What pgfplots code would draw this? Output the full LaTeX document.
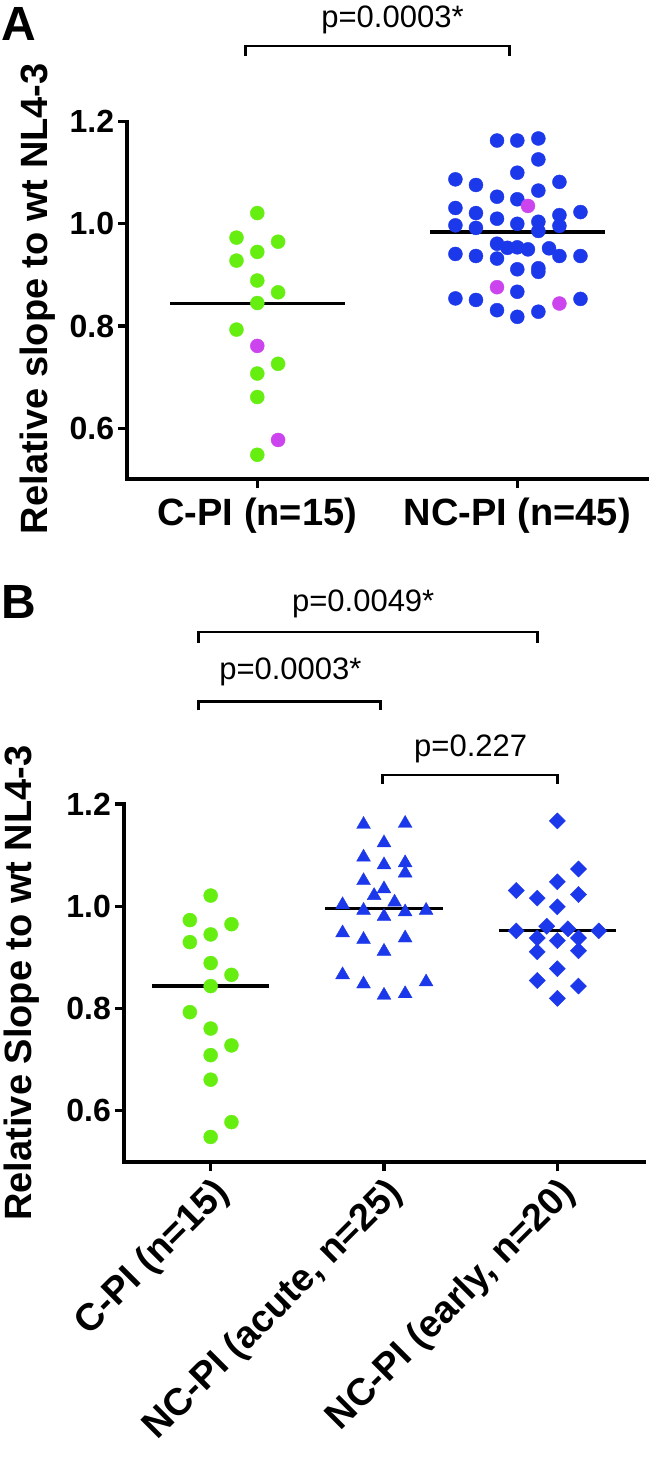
\documentclass[border=0pt]{standalone}
\usepackage{fontspec}
\setmainfont{Liberation Sans}
\usepackage{pgfplots}
\pgfplotsset{compat=1.18}
\definecolor{cgreen}{RGB}{102,238,17}
\definecolor{cmag}{RGB}{204,68,238}
\definecolor{cblue}{RGB}{28,56,235}
\pgfplotsset{
  slopeaxis/.style={
    scale only axis,
    width=520pt,
    ymin=0.5, ymax=1.2,
    ytick={0.6,0.8,1.0,1.2},
    axis lines*=left,
    axis line style={line width=3.8pt, line cap=rect},
    tick align=outside,
    major tick length=9pt,
    major tick style={line width=3.2pt, black},
    clip=false,
    yticklabel style={font=\fontsize{32}{32}\selectfont\bfseries, inner sep=4pt,
      /pgf/number format/fixed, /pgf/number format/fixed zerofill,
      /pgf/number format/precision=1, /pgf/number format/assume math mode=true},
    ylabel style={font=\fontsize{38}{38}\selectfont\bfseries, anchor=base},
  },
}
\begin{document}
\begin{tikzpicture}[x=1pt,y=1pt]
\useasboundingbox (0,0) rectangle (650,-1461);
\node[anchor=north west, inner sep=0pt, font=\fontsize{48}{48}\selectfont\bfseries] at (1,-7) {A};
\node[anchor=north west, inner sep=0pt, font=\fontsize{48}{48}\selectfont\bfseries] at (1,-585) {B};

% ---------------- Panel A ----------------
\begin{axis}[slopeaxis, at={(127.3pt,-479.3pt)}, anchor=south west, height=357.7pt,
  xmin=0.5, xmax=2.5, xtick={1,2},
  xticklabels={C-PI (n=15), NC-PI (n=45)},
  xticklabel style={font=\fontsize{38}{38}\selectfont\bfseries, inner sep=9pt},
  ylabel={Relative slope to wt NL4-3},
  ylabel style={at={(axis description cs:-0.154,0.505)}},
]
\addplot[only marks, mark=*, mark size=7pt, color=cgreen] coordinates {
(0.92,0.973) (1.08,0.965) (1,1.021) (1,0.945) (0.92,0.928) (1,0.889) (1.08,0.866)
(1,0.845) (0.92,0.793) (1.08,0.726) (1,0.707) (1,0.661) (1,0.548)};
\addplot[only marks, mark=*, mark size=7pt, color=cmag] coordinates {
(1,0.761) (1.08,0.577)};
\addplot[only marks, mark=*, mark size=7pt, color=cblue] coordinates {
(1.922,1.163) (2,1.163) (2.081,1.167) (2.081,1.126) (2,1.100) (1.762,1.087)
(2.162,1.082) (1.841,1.076) (2.081,1.065) (1.922,1.053) (2,1.048) (1.762,1.031)
(2.243,1.023) (1.841,1.021) (2.162,1.017) (1.922,1.010) (2.081,1.004) (2,1.000)
(1.762,0.997) (2.162,0.996) (1.841,0.992) (2.081,0.986) (1.922,0.961) (1.962,0.953)
(2,0.954) (2.041,0.950) (2.122,0.952) (1.762,0.941) (1.841,0.937) (2.162,0.937)
(2.243,0.937) (1.922,0.932) (2,0.911) (2.081,0.913) (2.081,0.906) (2,0.867)
(1.762,0.854) (1.841,0.851) (2.243,0.853) (1.922,0.831) (2.081,0.828) (2,0.818)};
\addplot[only marks, mark=*, mark size=7pt, color=cmag] coordinates {
(2.041,1.035) (1.922,0.876) (2.162,0.844)};
\addplot[black, line width=3.2pt, no marks] coordinates {(0.664,0.844) (1.336,0.844)};
\addplot[black, line width=3.2pt, no marks] coordinates {(1.664,0.984) (2.336,0.984)};
\draw[line width=2.6pt] (axis cs:0.955,1.3286) -- (axis cs:0.955,1.3476) -- (axis cs:1.97,1.3476) -- (axis cs:1.97,1.3286);
\node[anchor=base, inner sep=0pt, font=\fontsize{31}{31}\selectfont] at (axis cs:1.52,1.385) {p=0.0003*};
\end{axis}

% ---------------- Panel B ----------------
\begin{axis}[slopeaxis, at={(124pt,-1162pt)}, anchor=south west, height=358pt,
  xmin=0.5, xmax=3.5, xtick={1,2,3},
  xticklabels={C-PI (n=15), NC-PI (acute{,} n=25), NC-PI (early{,} n=20)},
  xticklabel style={font=\fontsize{38}{38}\selectfont\bfseries, rotate=45, anchor=north east, inner sep=3pt},
  ylabel={Relative Slope to wt NL4-3},
  ylabel style={at={(axis description cs:-0.177,0.5)}},
]
\addplot[only marks, mark=*, mark size=7pt, color=cgreen] coordinates {
(1,1.021) (0.88,0.973) (1.12,0.965) (1,0.945) (0.88,0.930) (1,0.889) (1.12,0.866)
(1,0.844) (0.88,0.793) (1,0.761) (1.12,0.728) (1,0.709) (1,0.661) (1.12,0.578) (1,0.549)};
\addplot[only marks, mark=triangle*, mark size=8pt, color=cblue] coordinates {
(1.882,1.160) (2.122,1.162) (2,1.124) (1.882,1.096) (2,1.081) (2.122,1.085)
(2.122,1.065) (1.882,1.050) (2,1.034) (1.943,1.021) (1.761,1.003) (2.061,1.008)
(1.882,0.992) (2.122,0.989) (2.243,0.992) (2,0.980) (1.761,0.948) (1.882,0.935)
(2.122,0.938) (2,0.912) (1.761,0.866) (1.882,0.848) (2.243,0.852) (2,0.826) (2.122,0.829)};
\addplot[only marks, mark=square*, mark size=5.7pt, mark options={rotate=45}, color=cblue] coordinates {
(3,1.167) (3.122,1.073) (3,1.048) (2.763,1.031) (2.884,1.016) (3.122,1.023) (3,0.999)
(2.763,0.952) (2.939,0.961) (3.061,0.956) (3.239,0.952) (2.884,0.938) (3,0.933)
(3.122,0.938) (2.884,0.911) (3.122,0.913) (3,0.878) (2.884,0.855) (3.122,0.844) (3,0.820)};
\addplot[black, line width=3.2pt, no marks] coordinates {(0.661,0.844) (1.339,0.844)};
\addplot[black, line width=3.2pt, no marks] coordinates {(1.661,0.995) (2.339,0.995)};
\addplot[black, line width=3.2pt, no marks] coordinates {(2.661,0.952) (3.339,0.952)};
\draw[line width=2.6pt] (axis cs:0.93,1.515) -- (axis cs:0.93,1.536) -- (axis cs:2.885,1.536) -- (axis cs:2.885,1.515);
\node[anchor=base, inner sep=0pt, font=\fontsize{31}{31}\selectfont] at (axis cs:1.88,1.577) {p=0.0049*};
\draw[line width=2.6pt] (axis cs:0.93,1.383) -- (axis cs:0.93,1.4006) -- (axis cs:1.98,1.4006) -- (axis cs:1.98,1.383);
\node[anchor=base, inner sep=0pt, font=\fontsize{31}{31}\selectfont] at (axis cs:1.46,1.443) {p=0.0003*};
\draw[line width=2.6pt] (axis cs:1.99,1.239) -- (axis cs:1.99,1.257) -- (axis cs:3,1.257) -- (axis cs:3,1.239);
\node[anchor=base, inner sep=0pt, font=\fontsize{31}{31}\selectfont] at (axis cs:2.5,1.293) {p=0.227};
\end{axis}
\end{tikzpicture}
\end{document}
